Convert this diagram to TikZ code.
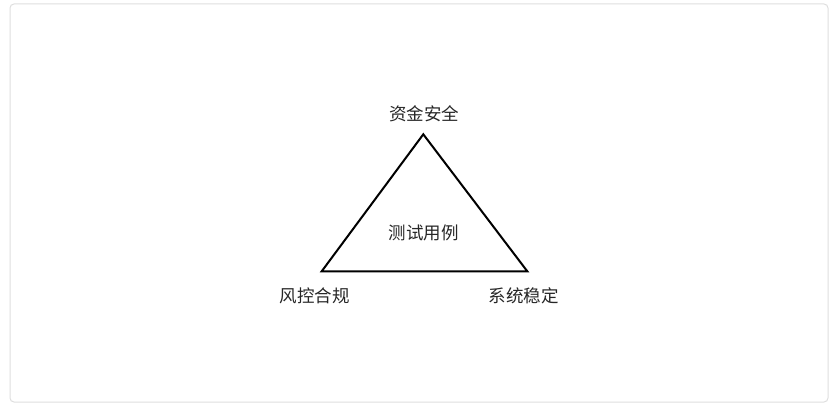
\documentclass[tikz,border=0pt]{standalone}
\usepackage{fontspec}
\newfontfamily\cjk{Noto Sans CJK SC}
\begin{document}
\begin{tikzpicture}[x=1pt, y=-1pt,
		mylabel/.style={font=\cjk\fontsize{17.5}{21}\selectfont, text=black!85, inner sep=0pt},
		myedge/.style={line width=2pt, line join=miter, black}]
		\useasboundingbox (0, 0) rectangle (837, 404);
		\draw[black!13, line width=1pt, rounded corners=4pt] (10, 4) rectangle (828, 402);

		\coordinate (top) at (423.3, 134.3);
		\coordinate (left) at (321.7, 271.3);
		\coordinate (right) at (527.3, 271.3);

		\node[mylabel] at (424.3, 113.5) (fund) {资金安全};
		\node[mylabel] at (314.5, 295.5) (risk) {风控合规};
		\node[mylabel] at (523.5, 295.5) (stable) {系统稳定};
		\node[mylabel] at (423.8, 233) (case) {测试用例};

		\draw[myedge] (top) -- (left) -- (right) -- cycle;
	\end{tikzpicture}
\end{document}
